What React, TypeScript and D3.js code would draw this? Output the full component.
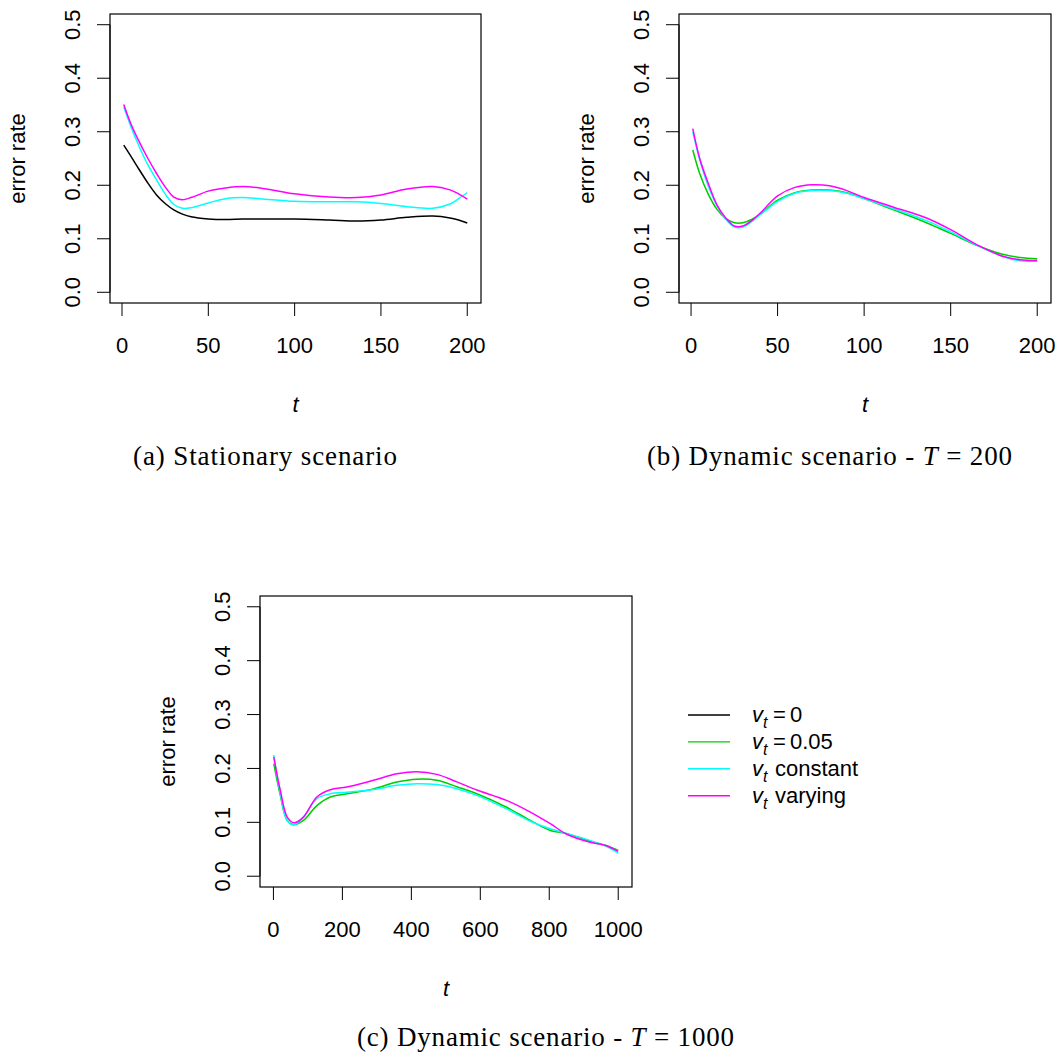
import React from "react";
import * as d3 from "d3";

// ---------- data ----------
const seriesNames = ["v_t = 0", "v_t = 0.05", "v_t constant", "v_t varying"];
const seriesColors = ["#000000", "#00CD00", "#00FFFF", "#FF00FF"];
const legendRest = ["0", "0.05", "constant", "varying"];
const yTicks = [0, 0.1, 0.2, 0.3, 0.4, 0.5];

// Panel (a) stationary scenario
const tA = [1, 5, 10, 15, 20, 25, 30, 35, 40, 50, 60, 70, 80, 100, 120, 136, 150, 165, 180, 190, 195, 200];
const aBlack = [0.275, 0.255, 0.229, 0.204, 0.182, 0.166, 0.154, 0.146, 0.141, 0.137, 0.136, 0.137, 0.137, 0.137, 0.135, 0.133, 0.135, 0.14, 0.1425, 0.139, 0.135, 0.1295];
const aCyan = [0.346, 0.311, 0.272, 0.238, 0.21, 0.184, 0.164, 0.157, 0.158, 0.167, 0.175, 0.177, 0.175, 0.17, 0.169, 0.169, 0.166, 0.16, 0.157, 0.165, 0.175, 0.186];
const aMagenta = [0.351, 0.316, 0.281, 0.25, 0.222, 0.197, 0.178, 0.173, 0.177, 0.189, 0.195, 0.1976, 0.195, 0.184, 0.178, 0.177, 0.182, 0.193, 0.1976, 0.1914, 0.184, 0.174];
const xTicksA = [0, 50, 100, 150, 200];

// Panel (b) dynamic T = 200
const tB = [1, 5, 10, 15, 20, 25, 30, 35, 40, 50, 60, 70, 80, 90, 100, 117, 136, 150, 165, 180, 190, 200];
const bGreen = [0.266, 0.222, 0.183, 0.155, 0.138, 0.13, 0.13, 0.136, 0.146, 0.172, 0.186, 0.191, 0.191, 0.186, 0.175, 0.154, 0.13, 0.11, 0.088, 0.071, 0.065, 0.0626];
const bCyan = [0.3, 0.248, 0.198, 0.162, 0.137, 0.122, 0.122, 0.132, 0.145, 0.17, 0.185, 0.19, 0.19, 0.185, 0.175, 0.156, 0.134, 0.113, 0.088, 0.067, 0.059, 0.058];
const bMagenta = [0.306, 0.25, 0.203, 0.163, 0.139, 0.124, 0.124, 0.134, 0.148, 0.18, 0.196, 0.201, 0.199, 0.19, 0.177, 0.159, 0.1388, 0.117, 0.089, 0.0675, 0.061, 0.0595];
const xTicksB = [0, 50, 100, 150, 200];

// Panel (c) dynamic T = 1000
const tC = [1, 20, 40, 60, 87, 126, 165, 213, 290, 358, 416, 474, 532, 590, 676, 745, 803, 852, 919, 964, 1000];
const cGreen = [0.209, 0.15, 0.1035, 0.096, 0.1035, 0.131, 0.147, 0.153, 0.162, 0.1747, 0.18, 0.178, 0.166, 0.153, 0.128, 0.1035, 0.085, 0.079, 0.065, 0.057, 0.048];
const cCyan = [0.225, 0.153, 0.1035, 0.095, 0.1097, 0.144, 0.153, 0.156, 0.161, 0.1686, 0.1717, 0.17, 0.1624, 0.15, 0.125, 0.102, 0.088, 0.079, 0.066, 0.056, 0.043];
const cMagenta = [0.221, 0.159, 0.1097, 0.0992, 0.1097, 0.147, 0.1606, 0.1654, 0.178, 0.19, 0.194, 0.189, 0.175, 0.16, 0.1407, 0.119, 0.0974, 0.0775, 0.063, 0.057, 0.046];
const xTicksC = [0, 200, 400, 600, 800, 1000];

const SANS = "'Liberation Sans', Arial, Helvetica, sans-serif";
const SERIF = "'Liberation Serif', 'Times New Roman', serif";

type Series = { t: number[]; v: number[]; color: string };

function Panel(props: {
  left: number; right: number; top: number; bottom: number;
  tMax: number; xTicks: number[]; series: Series[];
}) {
  const { left, right, top, bottom, tMax, xTicks, series } = props;
  const ext = (tMax - 1) * 0.04;
  const x = d3.scaleLinear().domain([1 - ext, tMax + ext]).range([left, right]);
  const y = d3.scaleLinear().domain([-0.02, 0.52]).range([bottom, top]);
  const line = d3.line<[number, number]>()
    .x((d) => x(d[0]))
    .y((d) => y(d[1]))
    .curve(d3.curveCatmullRom.alpha(0.5));
  const fmt = d3.format(".1f");
  const cx = (left + right) / 2;
  const cy = (top + bottom) / 2;
  return (
    <g>
      <defs>
        <clipPath id={`clip-${left}-${top}`}>
          <rect x={left} y={top} width={right - left} height={bottom - top} />
        </clipPath>
      </defs>
      <g clipPath={`url(#clip-${left}-${top})`}>
        {series.map((s, i) => (
          <path key={i} d={line(s.t.map((t, j) => [t, s.v[j]] as [number, number])) || ""}
            fill="none" stroke={s.color} strokeWidth={1.5} />
        ))}
      </g>
      <rect x={left} y={top} width={right - left} height={bottom - top} fill="none" stroke="#000" strokeWidth={1.2} />
      {/* y axis */}
      <line x1={left} x2={left} y1={y(yTicks[0])} y2={y(yTicks[yTicks.length - 1])} stroke="#000" strokeWidth={1} />
      {yTicks.map((v) => (
        <g key={v}>
          <line x1={left - 13} x2={left} y1={y(v)} y2={y(v)} stroke="#000" strokeWidth={1} />
          <text transform={`translate(${left - 30},${y(v)}) rotate(-90)`} textAnchor="middle"
            fontFamily={SANS} fontSize={22} fill="#000">{fmt(v)}</text>
        </g>
      ))}
      {/* x axis */}
      {xTicks.map((t) => (
        <g key={t}>
          <line x1={x(t)} x2={x(t)} y1={bottom} y2={bottom + 13} stroke="#000" strokeWidth={1} />
          <text x={x(t)} y={bottom + 50} textAnchor="middle" fontFamily={SANS} fontSize={22} fill="#000">{t}</text>
        </g>
      ))}
      <text x={cx} y={bottom + 109} textAnchor="middle" fontFamily={SANS} fontStyle="italic" fontSize={22} fill="#000">t</text>
      <text transform={`translate(${left - 85},${cy}) rotate(-90)`} textAnchor="middle"
        fontFamily={SANS} fontSize={22} fill="#000">error rate</text>
    </g>
  );
}

export default function App() {
  const legendY0 = 715;
  const legendStep = 26.9;
  return (
    <svg width={1060} height={1057} viewBox="0 0 1060 1057"
      style={{ position: "absolute", left: 0, top: 0, background: "#fff" }}>
      <rect width={1060} height={1057} fill="#fff" />
      <Panel left={110} right={481} top={14} bottom={303} tMax={200} xTicks={xTicksA}
        series={[
          { t: tA, v: aBlack, color: seriesColors[0] },
          { t: tA, v: aCyan, color: seriesColors[2] },
          { t: tA, v: aMagenta, color: seriesColors[3] },
        ]} />
      <Panel left={679} right={1051} top={14} bottom={303} tMax={200} xTicks={xTicksB}
        series={[
          { t: tB, v: bGreen, color: seriesColors[1] },
          { t: tB, v: bCyan, color: seriesColors[2] },
          { t: tB, v: bMagenta, color: seriesColors[3] },
        ]} />
      <Panel left={260} right={632} top={596} bottom={887} tMax={1000} xTicks={xTicksC}
        series={[
          { t: tC, v: cGreen, color: seriesColors[1] },
          { t: tC, v: cCyan, color: seriesColors[2] },
          { t: tC, v: cMagenta, color: seriesColors[3] },
        ]} />

      {/* captions */}
      <text x={133} y={465} fontFamily={SERIF} fontSize={27} fill="#000" textLength={264} lengthAdjust="spacing">
        (a) Stationary scenario
      </text>
      <text x={647} y={465} fontFamily={SERIF} fontSize={27} fill="#000" textLength={365} lengthAdjust="spacing">
        (b) Dynamic scenario - <tspan fontStyle="italic">T</tspan> = 200
      </text>
      <text x={357} y={1046} fontFamily={SERIF} fontSize={27} fill="#000" textLength={377} lengthAdjust="spacing">
        (c) Dynamic scenario - <tspan fontStyle="italic">T</tspan> = 1000
      </text>

      {/* legend */}
      {seriesNames.map((name, i) => {
        const ly = legendY0 + i * legendStep;
        const isEq = i < 2;
        return (
          <g key={name}>
            <line x1={688} x2={730} y1={ly} y2={ly} stroke={seriesColors[i]} strokeWidth={1.4} />
            <text y={ly + 7} fontFamily={SANS} fontSize={22} fill="#000">
              <tspan x={752} fontStyle="italic">v</tspan>
              <tspan fontStyle="italic" fontSize={16} dy={6}>t</tspan>
              {isEq ? (
                <>
                  <tspan x={773} dy={-6}>=</tspan>
                  <tspan x={790}>{legendRest[i]}</tspan>
                </>
              ) : (
                <tspan x={775} dy={-6}>{legendRest[i]}</tspan>
              )}
            </text>
          </g>
        );
      })}
    </svg>
  );
}
